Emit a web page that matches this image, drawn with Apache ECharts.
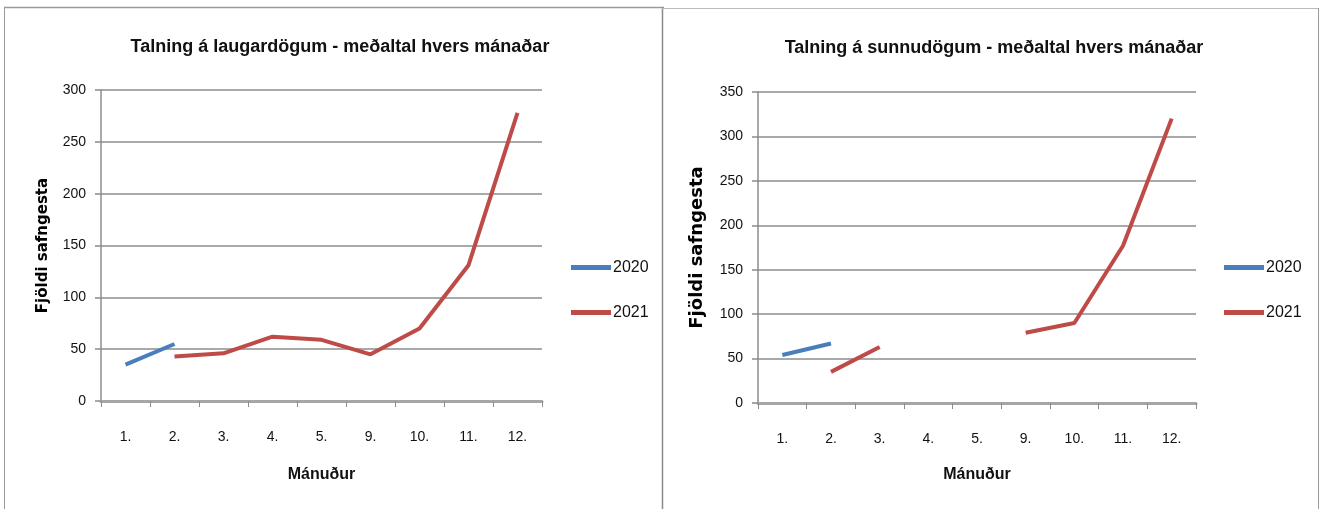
<!DOCTYPE html>
<html>
<head>
<meta charset="utf-8">
<script src="https://cdn.jsdelivr.net/npm/echarts@6/dist/echarts.min.js"></script>
<style>
html,body{margin:0;padding:0;background:#fff;}
#c{width:1325px;height:509px;}
</style>
</head>
<body>
<div id="c"></div>
<script>
var months = ['1.', '2.', '3.', '4.', '5.', '9.', '10.', '11.', '12.'];
var seriesNames = ['2020', '2021'];
var titleSat = 'Talning á laugardögum - meðaltal hvers mánaðar';
var titleSun = 'Talning á sunnudögum - meðaltal hvers mánaðar';
var yName = 'Fjöldi safngesta';
var xName = 'Mánuður';
var sat2020 = [35, 55, null, null, null, null, null, null, null];
var sat2021 = [null, 43, 46, 62, 59, 45, 70, 131, 278];
var sun2020 = [54, 67, null, null, null, null, null, null, null];
var sun2021 = [null, 35, 63, null, null, 79, 90, 177, 320];

var BLUE = '#4a7ebb', RED = '#be4b48', GRID = '#8c8c8c';
var FN = '"Liberation Sans", sans-serif';

function xAxis(gi, gap){
  return {
    type: 'category', gridIndex: gi, data: months, boundaryGap: true,
    axisLine: {show: true, lineStyle: {color: '#a6a6a6', width: 3}},
    axisTick: {show: true, alignWithLabel: false, length: 6, lineStyle: {color: GRID, width: 1}},
    axisLabel: {color: '#111', fontFamily: FN, fontSize: 14, margin: 29},
    name: xName, nameLocation: 'middle', nameGap: gap,
    nameTextStyle: {color: '#111', fontFamily: FN, fontSize: 16, fontWeight: 'bold'}
  };
}
function yAxis(gi, max, nameSize, gap){
  return {
    type: 'value', gridIndex: gi, min: 0, max: max, interval: 50,
    axisLine: {show: true, lineStyle: {color: GRID, width: 1.5}},
    axisTick: {show: true, length: 6, lineStyle: {color: GRID, width: 1.5}},
    axisLabel: {color: '#111', fontFamily: FN, fontSize: 14, margin: 15},
    splitLine: {show: true, lineStyle: {color: GRID, width: 1.5}},
    name: yName, nameLocation: 'middle', nameGap: gap, nameRotate: 90,
    nameTextStyle: {color: '#000', fontFamily: '"DejaVu Sans", sans-serif', fontSize: nameSize, fontWeight: 'bold'}
  };
}
function line(name, data, color, gi){
  return {
    type: 'line', name: name, data: data, xAxisIndex: gi, yAxisIndex: gi,
    showSymbol: false, symbol: 'none', connectNulls: false,
    lineStyle: {color: color, width: 4}, itemStyle: {color: color}, z: 3
  };
}
function legend(left){
  return {
    data: seriesNames, orient: 'vertical', left: left, top: 259, padding: 0,
    icon: 'rect', itemWidth: 40, itemHeight: 5, itemGap: 28,
    textStyle: {color: '#111', fontFamily: FN, fontSize: 16, lineHeight: 17, padding: [0,0,0,-3]},
    selectedMode: false
  };
}

var chart = echarts.init(document.getElementById('c'), null, {renderer: 'canvas'});
chart.setOption({
  animation: false,
  backgroundColor: '#fff',
  color: [BLUE, RED],
  graphic: [
    {type: 'line', shape: {x1: 4, y1: 7.5, x2: 664, y2: 7.5}, style: {stroke: '#9a9a9a', lineWidth: 1.5}},
    {type: 'line', shape: {x1: 4.5, y1: 7, x2: 4.5, y2: 509}, style: {stroke: '#9a9a9a', lineWidth: 1}},
    {type: 'line', shape: {x1: 662.5, y1: 7, x2: 662.5, y2: 509}, style: {stroke: '#8a8a8a', lineWidth: 1.5}},
    {type: 'line', shape: {x1: 662, y1: 8.5, x2: 1318, y2: 8.5}, style: {stroke: '#bbbbbb', lineWidth: 1}},
    {type: 'line', shape: {x1: 1318.5, y1: 8, x2: 1318.5, y2: 509}, style: {stroke: '#9a9a9a', lineWidth: 1}}
  ],
  title: [
    {text: titleSat, left: 335, top: 33, textAlign: 'center',
     textStyle: {color: '#111', fontFamily: FN, fontSize: 18, fontWeight: 'bold'}},
    {text: titleSun, left: 989, top: 34, textAlign: 'center',
     textStyle: {color: '#111', fontFamily: FN, fontSize: 18, fontWeight: 'bold'}}
  ],
  legend: [legend(571), legend(1224)],
  grid: [
    {left: 101, top: 90, width: 441, height: 311, containLabel: false},
    {left: 758, top: 92, width: 438, height: 311, containLabel: false}
  ],
  xAxis: [xAxis(0, 66), xAxis(1, 64)],
  yAxis: [yAxis(0, 300, 15, 50), yAxis(1, 350, 18, 52)],
  series: [
    line(seriesNames[0], sat2020, BLUE, 0),
    line(seriesNames[1], sat2021, RED, 0),
    line(seriesNames[0], sun2020, BLUE, 1),
    line(seriesNames[1], sun2021, RED, 1)
  ]
});
</script>
</body>
</html>
